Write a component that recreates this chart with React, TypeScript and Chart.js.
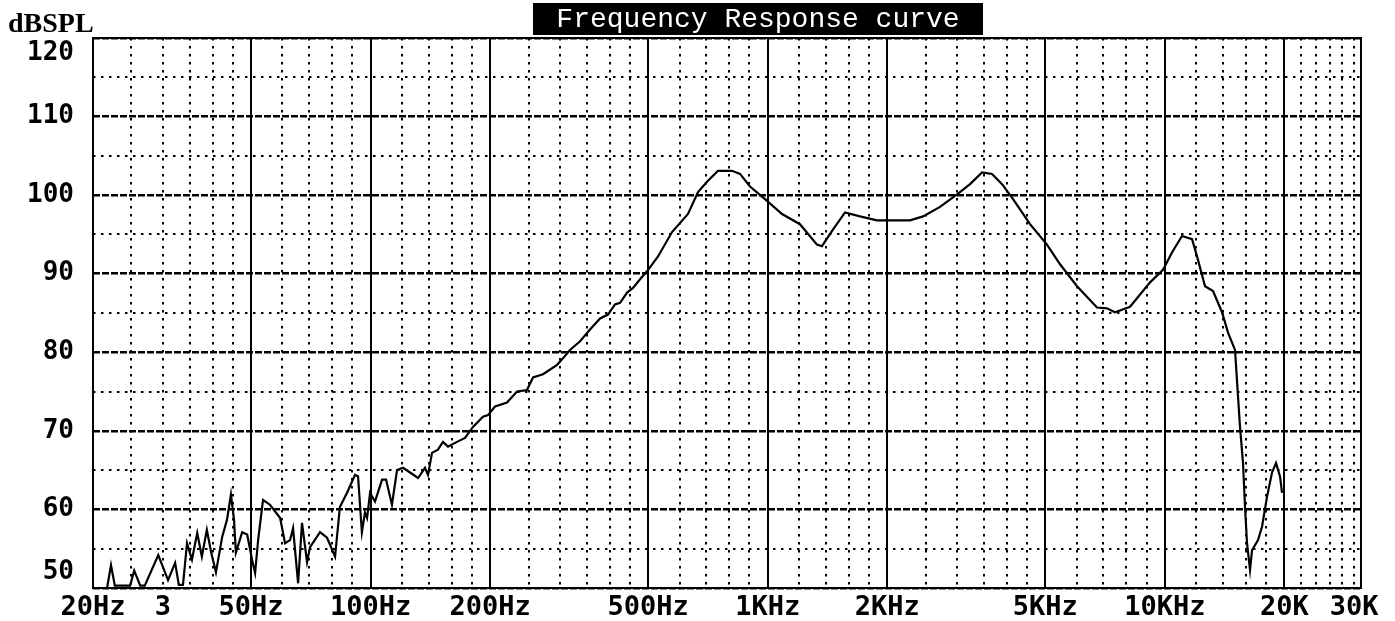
import React, { useEffect, useRef } from "react";
import { Chart, registerables } from "chart.js";

Chart.register(...registerables);

// ---- data ----
const freqHz = [
  20, 21.7, 22.2, 22.7, 24.8, 25.4, 26.3, 27.0, 29.2, 30.9,
  32.2, 32.9, 33.7, 34.5, 35.5, 36.6, 37.6, 38.7, 39.7, 40.8,
  42.3, 43.5, 44.5, 45.3, 45.8, 47.5, 48.9, 50.3, 51.2, 52.1,
  53.6, 55.8, 59.2, 60.9, 62.7, 63.8, 65.7, 67.2, 69.2, 70.4,
  74.6, 77.7, 81.4, 83.7, 87.2, 91.4, 93.0, 95.1, 96.8, 98.0,
  99.7, 102.6, 106.9, 109.4, 113.2, 116.6, 120.7, 125.7, 131.7, 137.1,
  139.5, 142.8, 147.8, 152.2, 156.7, 165.1, 172.9, 181.1, 191.9, 197.6,
  205.8, 220.6, 233.8, 247.7, 256.5, 271.8, 294.9, 303.5, 317.9, 336.9,
  357, 378.4, 396.2, 412.6, 424.9, 442.5, 458.2, 477, 496.8, 529.5,
  574.3, 630.1, 667.7, 703.5, 749.8, 813.2, 851.8, 902.7, 984.8, 1087,
  1206, 1331, 1370, 1460, 1566, 1708, 1885, 2283, 2462, 2716,
  2999, 3233, 3466, 3673, 3893, 4149, 4578, 5051, 5449, 6012,
  6751, 7153, 7493, 8175, 9183, 9898, 10428, 11050, 11713, 12058,
  12630, 13229, 13937, 14430, 15028, 15291, 15470, 15742, 15925, 16111,
  16394, 16585, 17172, 17575, 18092, 18624, 19062, 19508, 19736,
];

const splDb = [
  50, 50, 52.9, 50.3, 50.3, 52.2, 50.3, 50.3, 54.2, 51,
  53.2, 50.4, 50.4, 55.7, 53.6, 57, 54, 57.4, 54.5, 52,
  56.5, 58.7, 61.9, 58.7, 54.5, 57.1, 56.8, 53.6, 51.9, 56.1,
  61.2, 60.6, 58.9, 55.7, 56.1, 57.6, 50.6, 58.3, 53.3, 55.2,
  57.1, 56.4, 54, 60.3, 62.1, 64.4, 64.2, 57.1, 59.6, 58.9,
  62.1, 61, 63.8, 63.8, 60.6, 65, 65.3, 64.7, 64, 65.3,
  64.4, 67.2, 67.6, 68.6, 68, 68.6, 69.1, 70.5, 71.8, 72,
  73.1, 73.6, 75, 75.2, 76.8, 77.2, 78.4, 79.1, 80.3, 81.4,
  82.9, 84.3, 84.8, 86.1, 86.3, 87.6, 88.2, 89.3, 90.3, 92.2,
  95.3, 97.6, 100.4, 101.7, 103.1, 103.1, 102.7, 101.1, 99.5, 97.6,
  96.3, 93.7, 93.5, 95.6, 97.8, 97.3, 96.8, 96.8, 97.3, 98.5,
  100.1, 101.4, 102.9, 102.7, 101.4, 99.5, 96.3, 93.7, 91.2, 88.4,
  85.7, 85.6, 85.1, 85.8, 88.9, 90.5, 92.7, 94.8, 94.4, 92.2,
  88.4, 87.8, 85.1, 82.5, 80.3, 74.4, 70.5, 65.9, 60.3, 55.7,
  52.3, 54.8, 56.1, 57.8, 61.6, 64.7, 65.9, 64.2, 62.1,
];

const xLabelValues = [20, 30, 50, 100, 200, 500, 1000, 2000, 5000, 10000, 20000, 30000];
const xLabelTexts = ["20Hz", "3", "50Hz", "100Hz", "200Hz", "500Hz", "1KHz", "2KHz", "5KHz", "10KHz", "20K", "30K"];
const xMajorLines = [50, 100, 200, 500, 1000, 2000, 5000, 10000, 20000];
const xMinorLines = [
  25, 30, 35, 40, 45,
  60, 70, 80, 90,
  120, 140, 160, 180,
  250, 300, 350, 400, 450,
  600, 700, 800, 900,
  1200, 1400, 1600, 1800,
  2500, 3000, 3500, 4000, 4500,
  6000, 7000, 8000, 9000,
  12000, 14000, 16000, 18000,
  22000, 24000, 26000, 28000, 30000,
];
const yMajorValues = [50, 60, 70, 80, 90, 100, 110, 120];
const yMinorValues = [55, 65, 75, 85, 95, 105, 115];

const X_MIN = 20;
const X_MAX = 31200;
const Y_MIN = 50;
const Y_MAX = 120;

const titleText = "Frequency Response curve";
const yUnitText = "dBSPL";

export default function App() {
  const ref = useRef<HTMLCanvasElement>(null);

  useEffect(() => {
    const canvas = ref.current;
    if (!canvas) return;

    const setTicks = (values: number[]) => (scale: any) => {
      scale.ticks = values.map((v) => ({ value: v }));
    };

    const framePlugin = {
      id: "frame",
      beforeDatasetsDraw(chart: any) {
        const { left, top, right, bottom } = chart.chartArea;
        const ctx = chart.ctx;
        ctx.save();
        ctx.strokeStyle = "#000";
        ctx.lineWidth = 2;
        ctx.setLineDash([]);
        ctx.strokeRect(left, top, right - left, bottom - top);
        ctx.restore();
      },
    };

    const titlePlugin = {
      id: "frTitle",
      afterDraw(chart: any) {
        const ctx = chart.ctx;
        ctx.save();
        ctx.fillStyle = "#000";
        ctx.fillRect(533, 3, 450, 32);
        ctx.fillStyle = "#fff";
        ctx.font = '28px "Liberation Mono"';
        ctx.textAlign = "center";
        ctx.textBaseline = "middle";
        ctx.fillText(titleText, 758, 20);
        ctx.fillStyle = "#000";
        ctx.font = 'bold 28px "Liberation Serif"';
        ctx.textAlign = "left";
        ctx.textBaseline = "alphabetic";
        ctx.fillText(yUnitText, 8, 32);
        ctx.restore();
      },
    };

    const minorGrid = { color: "#000", lineWidth: 2, drawTicks: false };
    const minorDash = { display: false, dash: [2.5, 5.5] };

    const chart = new Chart(canvas, {
      type: "line",
      data: {
        datasets: [
          {
            data: freqHz.map((f, i) => ({ x: f, y: splDb[i] })),
            borderColor: "#000",
            borderWidth: 2.2,
            pointRadius: 0,
            tension: 0,
            fill: false,
          },
        ],
      },
      options: {
        animation: false,
        responsive: false,
        devicePixelRatio: 1,
        parsing: false as any,
        layout: { padding: { top: 38, right: 34, left: 0, bottom: 0 } },
        plugins: {
          legend: { display: false },
          tooltip: { enabled: false },
          title: { display: false },
        },
        scales: {
          x: {
            type: "logarithmic",
            position: "bottom",
            min: X_MIN,
            max: X_MAX,
            bounds: "data",
            afterBuildTicks: setTicks(xLabelValues),
            afterFit: (s: any) => {
              s.height = 33;
            },
            grid: { display: false, drawTicks: false },
            border: { display: false },
            ticks: {
              autoSkip: false,
              maxRotation: 0,
              minRotation: 0,
              padding: 4,
              color: "#000",
              font: { family: '"DejaVu Sans Mono"', size: 27, weight: "bold" },
              callback: (_v: any, i: number) => xLabelTexts[i],
            },
          },
          xMinor: {
            type: "logarithmic",
            position: "bottom",
            min: X_MIN,
            max: X_MAX,
            bounds: "data",
            afterBuildTicks: setTicks(xMinorLines),
            afterFit: (s: any) => {
              s.height = 0;
            },
            grid: minorGrid,
            border: minorDash,
            ticks: { display: false },
          },
          xMajor: {
            type: "logarithmic",
            position: "bottom",
            min: X_MIN,
            max: X_MAX,
            bounds: "data",
            afterBuildTicks: setTicks(xMajorLines),
            afterFit: (s: any) => {
              s.height = 0;
            },
            grid: { color: "#000", lineWidth: 2, drawTicks: false },
            border: { display: false },
            ticks: { display: false },
          },
          y: {
            type: "linear",
            position: "left",
            min: Y_MIN,
            max: Y_MAX,
            bounds: "data",
            afterBuildTicks: setTicks(yMajorValues),
            afterFit: (s: any) => {
              s.width = 93;
              s.paddingTop = 0;
              s.paddingBottom = 0;
            },
            grid: { color: "#000", lineWidth: 2.5, drawTicks: false },
            border: { display: false, dash: [7, 2] },
            ticks: {
              padding: 19,
              color: "#000",
              font: { family: '"DejaVu Sans Mono"', size: 26, weight: "bold" },
              callback: (v: any) => {
                const t = String(v);
                if (v === Y_MAX) return ["", t];
                if (v === Y_MIN) return [t, ""];
                return t;
              },
            },
          },
          yMinor: {
            type: "linear",
            position: "left",
            min: Y_MIN,
            max: Y_MAX,
            bounds: "data",
            afterBuildTicks: setTicks(yMinorValues),
            afterFit: (s: any) => {
              s.width = 0;
            },
            grid: minorGrid,
            border: minorDash,
            ticks: { display: false },
          },
        } as any,
      },
      plugins: [framePlugin, titlePlugin],
    } as any);

    return () => chart.destroy();
  }, []);

  return (
    <div style={{ position: "absolute", left: 0, top: 0, width: 1395, height: 621, background: "#fff" }}>
      <canvas ref={ref} width={1395} height={621} style={{ display: "block" }} />
    </div>
  );
}
